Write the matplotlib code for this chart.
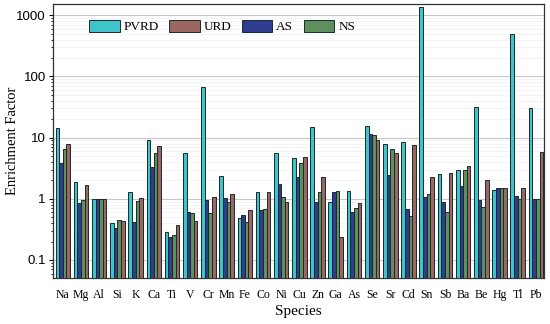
import numpy as np
import matplotlib
matplotlib.use("Agg")
import matplotlib.pyplot as plt
from matplotlib.ticker import LogLocator, NullFormatter

# Species on the x axis
species = ["Na", "Mg", "Al", "Si", "K", "Ca", "Ti", "V", "Cr", "Mn", "Fe", "Co", "Ni", "Cu",
           "Zn", "Ga", "As", "Se", "Sr", "Cd", "Sn", "Sb", "Ba", "Be", "Hg", "Tl", "Pb"]

# Enrichment factors
pvrd = [14.4, 1.9, 1.0, 0.40, 1.29, 9.0, 0.29, 5.6, 68, 2.4, 0.49, 1.30, 5.6, 4.7,
        14.7, 0.89, 1.34, 15.7, 8.0, 8.5, 1350, 2.57, 3.0, 31.5, 1.40, 490, 31.0]
as_ = [3.9, 0.85, 1.0, 0.33, 0.42, 3.3, 0.24, 0.60, 0.96, 1.03, 0.55, 0.65, 1.76, 2.27,
       0.87, 1.27, 0.60, 11.6, 2.44, 0.69, 1.09, 0.89, 1.63, 0.94, 1.50, 1.12, 0.99]
ns = [6.5, 0.96, 1.0, 0.45, 0.93, 5.6, 0.26, 0.58, 0.58, 0.87, 0.41, 0.69, 1.09, 3.9,
      1.30, 1.34, 0.72, 10.9, 6.5, 0.53, 1.21, 0.60, 2.9, 0.73, 1.50, 1.01, 0.99]
urd = [7.9, 1.68, 1.0, 0.43, 1.04, 7.2, 0.37, 0.44, 1.09, 1.22, 0.65, 1.30, 0.87, 4.8,
       2.3, 0.24, 0.84, 9.3, 5.6, 7.6, 2.27, 2.64, 3.4, 2.05, 1.51, 1.48, 5.8]

c_pvrd = "#3fc4cb"
c_urd = "#9c6663"
c_as = "#2f3d91"
c_ns = "#5f8f5c"
edge = "#1a2a2a"

plt.rcParams["font.family"] = ["Liberation Serif", "DejaVu Serif"]

fig = plt.figure(figsize=(5.5, 3.24), dpi=100)
ax = fig.add_axes([0.096, 0.142, 0.893, 0.846])

x = np.arange(len(species))
w = 0.2
# bars in the order they appear within each group: PVRD, AS, NS, URD
b1 = ax.bar(x - 1.5 * w, pvrd, w, color=c_pvrd, edgecolor=edge, linewidth=0.7, label="PVRD", zorder=3)
b3 = ax.bar(x - 0.5 * w, as_, w, color=c_as, edgecolor=edge, linewidth=0.7, label="AS", zorder=3)
b4 = ax.bar(x + 0.5 * w, ns, w, color=c_ns, edgecolor=edge, linewidth=0.7, label="NS", zorder=3)
b2 = ax.bar(x + 1.5 * w, urd, w, color=c_urd, edgecolor=edge, linewidth=0.7, label="URD", zorder=3)

ax.set_yscale("log")
ax.set_ylim(0.0508, 1530)
ax.set_xlim(-0.55, 26.44)

# grid: decades plus faint minor lines
ax.yaxis.set_minor_locator(LogLocator(base=10, subs=np.arange(2, 10), numticks=20))
ax.yaxis.set_minor_formatter(NullFormatter())
ax.grid(True, which="major", axis="y", color="#c8c8c8", linewidth=0.8, zorder=0)
ax.grid(True, which="minor", axis="y", color="#f2f2f2", linewidth=0.6, zorder=0)

ax.set_yticks([0.1, 1, 10, 100, 1000])
ax.set_yticklabels(["0.1", "1", "10", "100", "1000"], family=["Liberation Sans", "DejaVu Sans"], fontsize=9.5)
ax.tick_params(axis="y", which="major", direction="out", length=3, width=0.8, pad=2)
ax.tick_params(axis="y", which="minor", direction="out", length=1.8, width=0.6)

ax.set_xticks(x)
ax.set_xticklabels(species, fontsize=8.5)
ax.tick_params(axis="x", length=0, pad=8)

for s in ax.spines.values():
    s.set_linewidth(0.9)
    s.set_color("#333333")

ax.set_xlabel("Species", fontsize=11, labelpad=3)
ax.set_ylabel("Enrichment Factor", fontsize=10.5)
ax.yaxis.set_label_coords(-0.068, 0.5)

ax.legend([b1, b2, b3, b4], ["PVRD", "URD", "AS", "NS"], ncol=4, frameon=False,
          fontsize=9.5, loc="upper left", bbox_to_anchor=(0.05, 0.985),
          handlelength=2.3, handleheight=1.0, columnspacing=0.8, handletextpad=0.3)

fig.savefig("out.png", dpi=100)
